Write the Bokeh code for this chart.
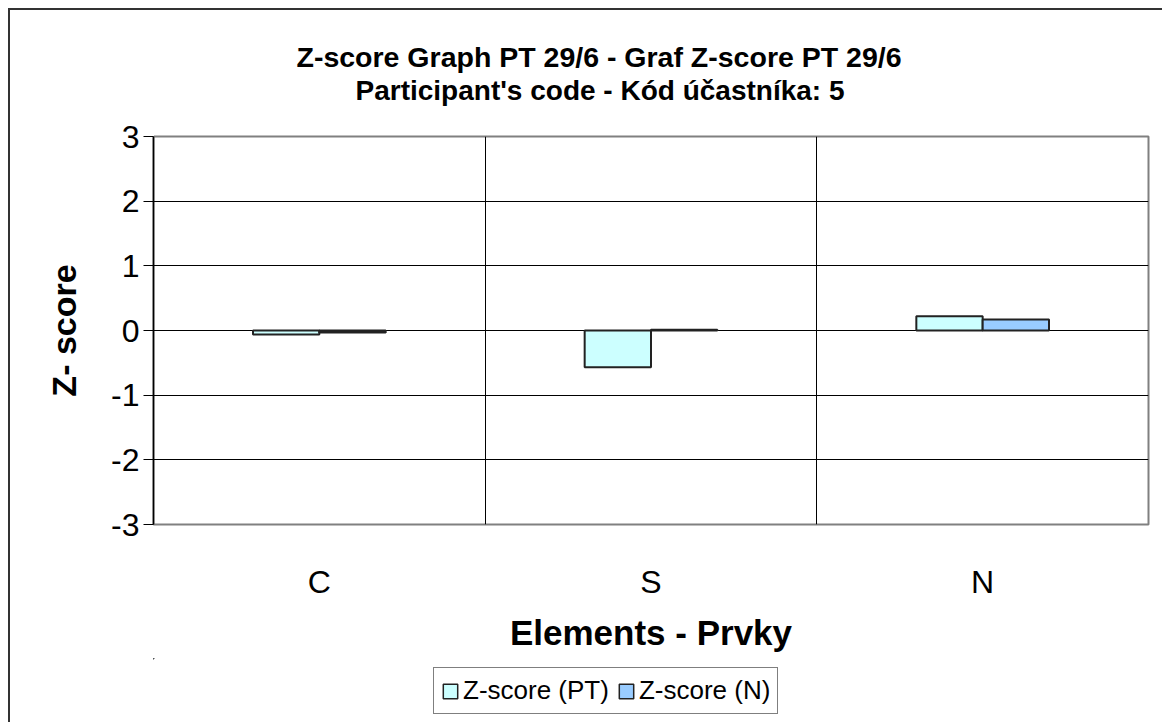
from bokeh.plotting import figure
from bokeh.layouts import column
from bokeh.models import (ColumnDataSource, Range1d, FixedTicker, Title, Legend,
                          LegendItem, LinearAxis)
from bokeh.transform import dodge
from bokeh.embed import file_html
from bokeh.resources import INLINE

categories = ["C", "S", "N"]
z_pt = [-0.06, -0.57, 0.22]
z_n = [-0.03, 0.01, 0.17]
y_ticks = [-3, -2, -1, 0, 1, 2, 3]
title_1 = "Z-score Graph PT 29/6 - Graf Z-score PT 29/6"
title_2 = "Participant's code - Kód účastníka:  5"
series_names = ["Z-score (PT)", "Z-score (N)"]
colors = ["#CCFFFF", "#99CCFF"]
FONT = "Liberation Sans"

xs = [i + 0.5 for i in range(len(categories))]
src = ColumnDataSource(dict(x=xs, pt=z_pt, n=z_n))

p = figure(width=1154, height=650, output_backend="svg", toolbar_location=None,
           x_range=Range1d(0, len(categories)), y_range=Range1d(y_ticks[0], y_ticks[-1]),
           min_border_left=143, min_border_right=16, min_border_top=126,
           min_border_bottom=136)
p.styles = {"margin-left": "8px", "margin-top": "8px",
            "border-left": "2px solid #333333", "border-top": "2px solid #333333"}
p.background_fill_color = "white"
p.border_fill_color = "white"
p.outline_line_color = "#808080"
p.outline_line_width = 2

p.vbar(x=dodge("x", -0.1, range=p.x_range), top="pt", bottom=0, width=0.2,
       source=src, fill_color=colors[0], line_color="#222222", line_width=2)
p.vbar(x=dodge("x", 0.1, range=p.x_range), top="n", bottom=0, width=0.2,
       source=src, fill_color=colors[1], line_color="#222222", line_width=2)

# axes
p.xaxis.ticker = FixedTicker(ticks=xs)
p.xaxis.major_label_overrides = {x: c for x, c in zip(xs, categories)}
p.xaxis.axis_line_color = None
p.xaxis.major_tick_line_color = None
p.xaxis.minor_tick_line_color = None
p.xaxis.major_label_standoff = 33
p.xaxis.major_label_text_font = FONT
p.xaxis.major_label_text_font_size = "32px"
p.xaxis.major_label_text_color = "black"
p.xaxis.axis_label = "Elements - Prvky"
p.xaxis.axis_label_text_font = FONT
p.xaxis.axis_label_text_font_style = "bold"
p.xaxis.axis_label_text_font_size = "35px"
p.xaxis.axis_label_text_color = "black"
p.xaxis.axis_label_standoff = 10

p.yaxis.ticker = FixedTicker(ticks=y_ticks)
p.yaxis.major_label_overrides = {t: str(t) for t in y_ticks}
p.yaxis.axis_line_color = "black"
p.yaxis.axis_line_width = 1.5
p.yaxis.major_tick_out = 10
p.yaxis.major_tick_in = 0
p.yaxis.major_tick_line_color = "black"
p.yaxis.minor_tick_line_color = None
p.yaxis.major_label_standoff = 4
p.yaxis.major_label_text_font = FONT
p.yaxis.major_label_text_font_size = "32px"
p.yaxis.major_label_text_color = "black"
p.yaxis.axis_label = "Z- score"
p.yaxis.axis_label_text_font = FONT
p.yaxis.axis_label_text_font_style = "bold"
p.yaxis.axis_label_text_font_size = "34px"
p.yaxis.axis_label_text_color = "black"
p.yaxis.axis_label_standoff = 25

p.xgrid.ticker = FixedTicker(ticks=list(range(1, len(categories))))
p.xgrid.grid_line_color = "black"
p.xgrid.grid_line_width = 1
p.ygrid.ticker = FixedTicker(ticks=y_ticks[1:-1])
p.ygrid.grid_line_color = "black"
p.ygrid.grid_line_width = 1

# invisible spacer (white tick, no label) between frame and the title lines
spacer = LinearAxis(ticker=FixedTicker(ticks=[0]), axis_line_color=None,
                    major_tick_line_color="white", minor_tick_line_color=None,
                    major_tick_out=31, major_tick_in=0, major_label_standoff=0,
                    major_label_overrides={0: ""}, major_label_text_font_size="1px",
                    major_label_text_color=None)
p.add_layout(spacer, "above")
# titles: first added sits nearest the frame
p.add_layout(Title(text=title_2, align="left", offset=202, standoff=0,
                   text_font=FONT, text_font_style="bold", text_font_size="28px",
                   text_color="black"), "above")
p.add_layout(Title(text=title_1, align="left", offset=143, standoff=0,
                   text_font=FONT, text_font_style="bold", text_font_size="28.5px",
                   text_color="black"), "above")

# legend strip below the chart (its key renderers lie far outside its view)
p2 = figure(width=1154, height=64, output_backend="svg", toolbar_location=None,
            x_axis_location=None, y_axis_location=None, min_border=0,
            x_range=Range1d(100, 103), y_range=Range1d(-101, -100))
p2.styles = {"margin-left": "8px", "border-left": "2px solid #333333"}
p2.outline_line_color = None
p2.grid.visible = False
p2.background_fill_color = "white"
p2.border_fill_color = "white"
k_pt = p2.vbar(x=dodge("x", -0.1, range=p2.x_range), top="pt", bottom=0, width=0.2,
               source=src, fill_color=colors[0], line_color="#222222", line_width=1.5)
k_n = p2.vbar(x=dodge("x", 0.1, range=p2.x_range), top="n", bottom=0, width=0.2,
              source=src, fill_color=colors[1], line_color="#222222", line_width=1.5)

legend = Legend(items=[LegendItem(label=series_names[0], renderers=[k_pt]),
                       LegendItem(label=series_names[1], renderers=[k_n])],
                orientation="horizontal", location=(280, 8))
legend.border_line_color = "black"
legend.border_line_width = 1
legend.background_fill_color = "white"
legend.label_text_font = FONT
legend.label_text_font_size = "26px"
legend.label_text_color = "black"
legend.glyph_width = 18
legend.glyph_height = 18
legend.label_standoff = 4
legend.spacing = 8
legend.padding = 7
legend.margin = 0
p2.add_layout(legend, "center")

root = column(p, p2, spacing=0)
open("out.html", "w").write(file_html(root, INLINE))
